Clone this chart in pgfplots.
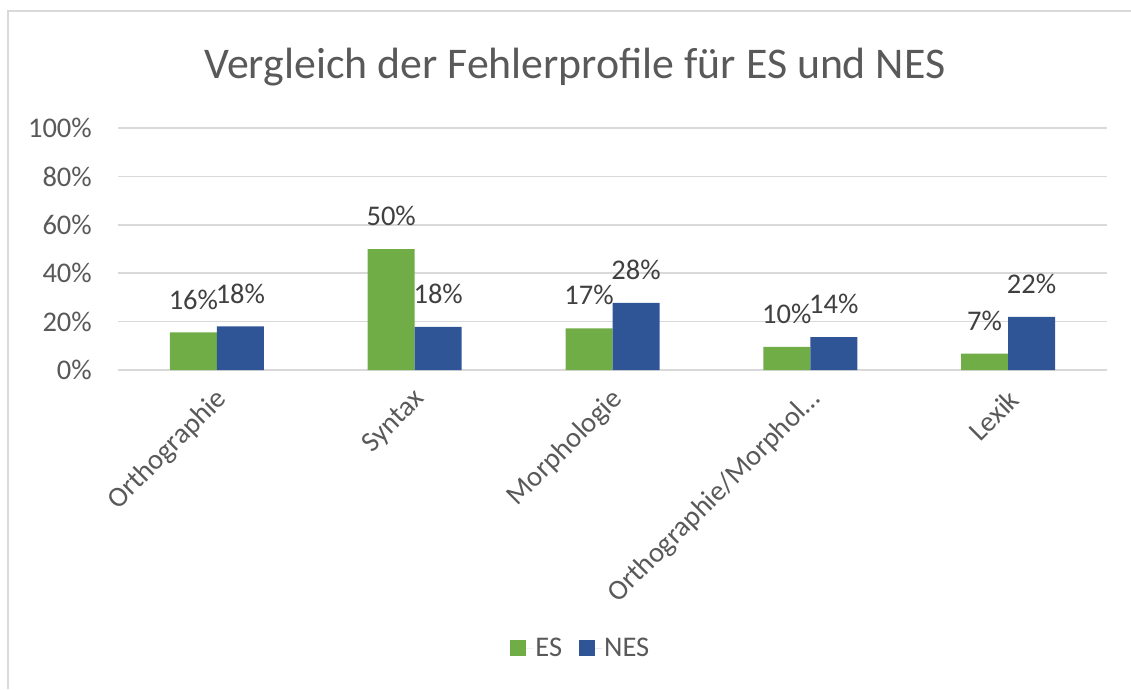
\documentclass[border=0pt]{standalone}
\usepackage{fontspec}
\setmainfont{Carlito}
\usepackage{pgfplots}
\pgfplotsset{compat=1.18}
\definecolor{esgreen}{HTML}{70AD47}
\definecolor{nesblue}{HTML}{2F5597}
\definecolor{txt}{HTML}{595959}
\definecolor{lbl}{HTML}{404040}
\definecolor{grd}{HTML}{D9D9D9}
\newcommand{\tickfont}{\fontsize{28.5}{34}\selectfont}
\begin{document}
\begin{tikzpicture}[x=1pt,y=1pt]
\path[use as bounding box] (0,0) rectangle (1131,689);
\draw[grd, line width=1.5pt] (8,0) -- (8,678) -- (1131,678);
\begin{axis}[
  at={(118pt,319pt)}, anchor=south west,
  scale only axis, width=989pt, height=242pt,
  ymin=0, ymax=1, xmin=-0.5, xmax=4.5,
  ybar=0pt, bar width=47pt,
  ytick={0,0.2,0.4,0.6,0.8,1},
  yticklabels={0\%,20\%,40\%,60\%,80\%,100\%},
  xtick={0,1,2,3,4},
  xticklabels={Orthographie,Syntax,Morphologie,Orthographie/Morphol…,Lexik},
  axis line style={draw=none},
  major tick length=0pt,
  ymajorgrids, grid style={grd, line width=1.5pt},
  clip=false,
  yticklabel style={font=\tickfont, text=txt, anchor=east, inner sep=0pt, xshift=-26pt},
  xticklabel style={font=\tickfont, text=txt, inner sep=0pt, xshift=6pt, yshift=-25pt, rotate=45, anchor=east},
  point meta=explicit symbolic,
  nodes near coords,
  nodes near coords style={font=\tickfont, text=lbl, inner sep=0pt, yshift=23pt},
  title={Vergleich der Fehlerprofile für ES und NES},
  title style={at={(0.462,1.225)}, anchor=center, font=\fontsize{43.8}{50}\selectfont, text=txt},
  legend image code/.code={\fill[#1] (0pt,-8pt) rectangle (16pt,8pt); \path (0pt,0pt) -- (23pt,0pt);},
  legend style={at={(0.468,-1.149)}, anchor=center, draw=none, fill=none,
    legend columns=2, font=\tickfont, text=txt,
    /tikz/every even column/.append style={column sep=15pt}},
]
\addplot[fill=esgreen, draw=none] coordinates {
  (0,0.155) [16\%]
  (1,0.500) [50\%]
  (2,0.172) [17\%]
  (3,0.096) [10\%]
  (4,0.068) [7\%]
};
\addplot[fill=nesblue, draw=none] coordinates {
  (0,0.180) [18\%]
  (1,0.178) [18\%]
  (2,0.277) [28\%]
  (3,0.136) [14\%]
  (4,0.220) [22\%]
};
\legend{ES,NES}
\end{axis}
\end{tikzpicture}
\end{document}
